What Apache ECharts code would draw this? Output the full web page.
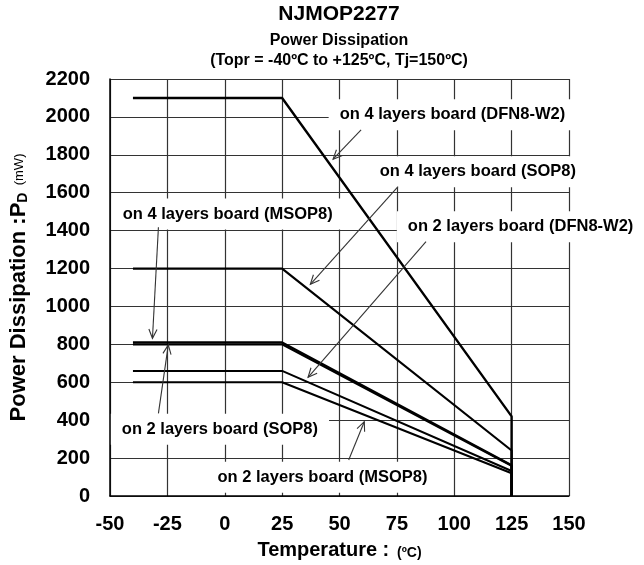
<!DOCTYPE html>
<html>
<head>
<meta charset="utf-8">
<script src="https://cdn.jsdelivr.net/npm/echarts@6/dist/echarts.min.js"></script>
<style>
  html, body { margin: 0; padding: 0; background: #fff; }
  #chart { width: 644px; height: 565px; }
</style>
</head>
<body>
<div id="chart"></div>
<script>
// ---- data ----
const temps = [-40, 25, 125, 125];
const dfn8w2_4layer = [2100, 2100, 420, 0];
const sop8_4layer = [1200, 1200, 240, 0];
const msop8_4layer = [810, 810, 162, 0];
const sop8_2layer = [800, 800, 160, 0];
const dfn8w2_2layer = [660, 660, 132, 0];
const msop8_2layer = [600, 600, 120, 0];

const xTicks = { min: -50, max: 150, interval: 25 };
const yTicks = { min: 0, max: 2200, interval: 200 };

const labelTexts = [
  'on 4 layers board (DFN8-W2)',
  'on 4 layers board (SOP8)',
  'on 2 layers board (DFN8-W2)',
  'on 4 layers board (MSOP8)',
  'on 2 layers board (SOP8)',
  'on 2 layers board (MSOP8)'
];
// label centres in data units [temperature, mW]
const labelAnchors = [
  [99.2, 2011], [110.3, 1711], [128.9, 1421],
  [1.3, 1488], [-2.1, 352], [42.6, 99]
];
// arrows: [tailT, tailP, headT, headP]
const arrows = [
  [59.4, 1931, 47.2, 1777],
  [75.5, 1632, 37.3, 1117],
  [87.7, 1342, 36.3, 626],
  [-28.9, 1418, -31.5, 832],
  [-28.9, 436, -24.6, 797],
  [54.0, 190, 60.8, 392]
];

const FONT = '"Liberation Sans", Arial, sans-serif';
const chart = echarts.init(document.getElementById('chart'), null, { renderer: 'canvas' });

function zip(vals) { return temps.map((t, i) => [t, vals[i]]); }
function lineSeries(name, vals, w) {
  return {
    name, type: 'line', data: zip(vals), symbol: 'none', z: 3,
    lineStyle: { color: '#000', width: w }, animation: false
  };
}

const option = {
  animation: false,
  backgroundColor: '#fff',
  title: [
    { text: 'NJMOP2277', left: 339, top: 4, textAlign: 'center', padding: 0,
      textStyle: { fontFamily: FONT, fontSize: 21, fontWeight: 'bold', color: '#000' } },
    { text: 'Power Dissipation', left: 339, top: 33, textAlign: 'center', padding: 0,
      textStyle: { fontFamily: FONT, fontSize: 16, fontWeight: 'bold', color: '#000' } },
    { text: '(Topr = -40ºC to +125ºC, Tj=150ºC)', left: 339, top: 53, textAlign: 'center', padding: 0,
      textStyle: { fontFamily: FONT, fontSize: 16, fontWeight: 'bold', color: '#000' } }
  ],
  grid: { left: 110, right: 75, top: 79, bottom: 69, containLabel: false },
  xAxis: {
    type: 'value', min: xTicks.min, max: xTicks.max, interval: xTicks.interval,
    axisLine: { show: true, onZero: false, lineStyle: { color: '#000', width: 1.5 } },
    axisTick: { show: false },
    splitLine: { show: true, lineStyle: { color: '#333', width: 1.2 } },
    axisLabel: { fontFamily: FONT, fontSize: 20, fontWeight: 'bold', color: '#000', margin: 18,
      formatter: v => String(v) },
    name: '{a|Temperature :}{u|  (ºC)}',
    nameLocation: 'middle', nameGap: 44,
    nameTextStyle: {
      rich: {
        a: { fontFamily: FONT, fontSize: 20, fontWeight: 'bold', color: '#000' },
        u: { fontFamily: FONT, fontSize: 14, fontWeight: 'bold', color: '#000', verticalAlign: 'bottom' }
      }
    }
  },
  yAxis: {
    type: 'value', min: yTicks.min, max: yTicks.max, interval: yTicks.interval,
    axisLine: { show: true, onZero: false, lineStyle: { color: '#000', width: 1.5 } },
    axisTick: { show: false },
    splitLine: { show: true, lineStyle: { color: '#333', width: 1.2 } },
    axisLabel: { fontFamily: FONT, fontSize: 20, fontWeight: 'bold', color: '#000', margin: 20,
      formatter: v => String(v) },
    name: '{a|Power Dissipation :P}{s|D}{u|  (mW)}',
    nameLocation: 'middle', nameRotate: 90, nameGap: 80,
    nameTextStyle: {
      rich: {
        a: { fontFamily: FONT, fontSize: 22, fontWeight: 'bold', color: '#000' },
        s: { fontFamily: FONT, fontSize: 14, fontWeight: 'bold', color: '#000', verticalAlign: 'bottom' },
        u: { fontFamily: FONT, fontSize: 13, fontWeight: 'normal', color: '#000' }
      }
    }
  },
  series: [
    {
      name: 'labels', type: 'custom', z: 1, silent: true,
      data: labelAnchors.map((a, i) => [a[0], a[1], i]),
      encode: { x: 0, y: 1 },
      renderItem: function (params, api) {
        const p = api.coord([api.value(0), api.value(1)]);
        return {
          type: 'text', x: p[0], y: p[1],
          style: {
            text: labelTexts[api.value(2)],
            align: 'center', verticalAlign: 'middle',
            font: 'bold 16.5px ' + FONT, fill: '#000',
            backgroundColor: '#fff', padding: [7, 11]
          }
        };
      }
    },
    {
      name: 'arrows', type: 'custom', z: 4, silent: true,
      data: arrows,
      encode: { x: [0, 2], y: [1, 3] },
      renderItem: function (params, api) {
        const a = api.coord([api.value(0), api.value(1)]);
        const b = api.coord([api.value(2), api.value(3)]);
        const ang = Math.atan2(b[1] - a[1], b[0] - a[0]);
        const L = 10, spread = 0.42;
        const p1 = [b[0] - L * Math.cos(ang - spread), b[1] - L * Math.sin(ang - spread)];
        const p2 = [b[0] - L * Math.cos(ang + spread), b[1] - L * Math.sin(ang + spread)];
        return {
          type: 'group',
          children: [
            { type: 'line', shape: { x1: a[0], y1: a[1], x2: b[0], y2: b[1] },
              style: { stroke: '#333', lineWidth: 1.1 } },
            { type: 'polyline', shape: { points: [p1, b, p2] },
              style: { stroke: '#333', lineWidth: 1.1, fill: null } }
          ]
        };
      }
    },
    lineSeries('4 layers DFN8-W2', dfn8w2_4layer, 2.4),
    lineSeries('4 layers SOP8', sop8_4layer, 2.2),
    lineSeries('4 layers MSOP8', msop8_4layer, 2.2),
    lineSeries('2 layers SOP8', sop8_2layer, 2.2),
    lineSeries('2 layers DFN8-W2', dfn8w2_2layer, 2),
    lineSeries('2 layers MSOP8', msop8_2layer, 2)
  ]
};
chart.setOption(option);
</script>
</body>
</html>
